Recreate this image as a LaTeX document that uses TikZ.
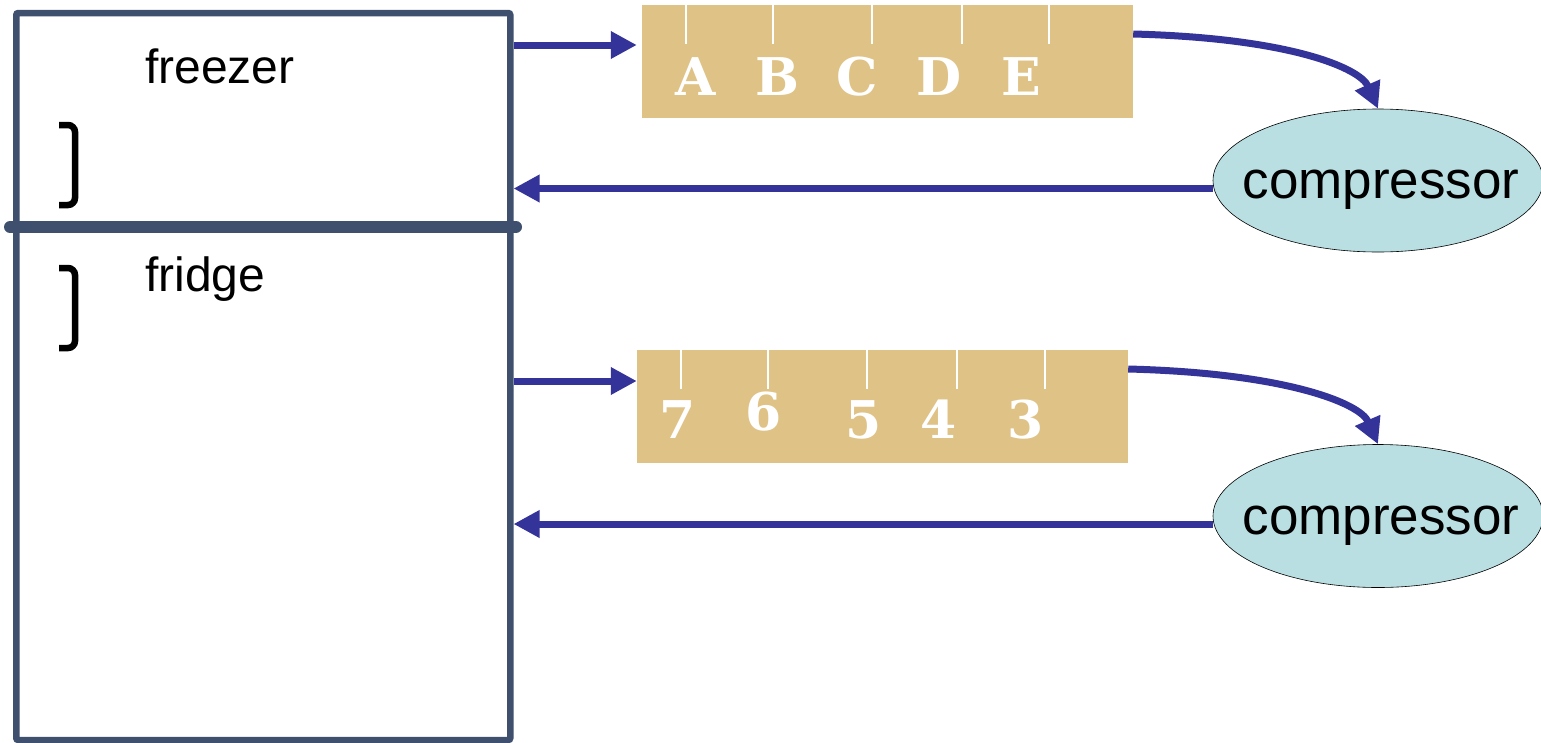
\documentclass[tikz,border=0pt]{standalone}
\usepackage{fontspec}
\newfontfamily\arial{Liberation Sans}
\newfontfamily\serifbold{DejaVu Serif}
\usetikzlibrary{shapes.geometric,arrows.meta}
\definecolor{framec}{HTML}{3F4F6E}
\definecolor{arrc}{HTML}{333399}
\definecolor{tanc}{HTML}{DFC286}
\definecolor{cyanc}{HTML}{B9DFE3}
\tikzset{
  fridgebox/.style={draw=framec, line width=6.5pt, rounded corners=2pt, minimum width=494pt, minimum height=727pt, inner sep=0pt},
  tanbox/.style={fill=tanc, minimum width=491pt, minimum height=113pt, inner sep=0pt},
  comp/.style={ellipse, draw=black, line width=0.6pt, fill=cyanc, minimum width=330pt, minimum height=143pt, inner sep=0pt},
  comptext/.style={font=\arial\fontsize{53}{60}\selectfont, inner sep=0pt, anchor=base},
  arr/.style={draw=arrc, line width=7pt, -{Triangle[length=26pt,width=26pt]}},
  tick/.style={draw=white, line width=1.6pt},
  lab/.style={text=white, font=\serifbold\bfseries\fontsize{52}{60}\selectfont, inner sep=0pt, anchor=base},
  sidetext/.style={font=\arial\fontsize{48}{56}\selectfont, inner sep=0pt, anchor=base west},
  brk/.style={draw=black, line width=6.5pt, rounded corners=7pt}
}
\begin{document}
\begin{tikzpicture}[x=1pt,y=-1pt]
\useasboundingbox (0,0) rectangle (1541,742);
% fridge
\node[fridgebox] (fridge) at (263.25,376.5) {};
\coordinate (divl) at (10,227);
\coordinate (divr) at (516,227);
\draw[draw=framec, line width=12pt, line cap=round] (divl) -- (divr);
\node[sidetext] (freezer) at (145,83) {freezer};
\node[sidetext] (fridgel) at (145,291) {fridge};
\draw[brk] (59,125) -- (75,125) -- (75,205) -- (59,205);
\draw[brk] (59,268) -- (75,268) -- (75,348) -- (59,348);
% tan boxes
\node[tanbox] (box1) at (887.5,61.5) {};
\node[tanbox] (box2) at (882.5,406.5) {};
\foreach \x in {686,773,872,962,1049} \draw[tick] (\x,5) -- (\x,44);
\foreach \x in {681,768,867,957,1045} \draw[tick] (\x,350) -- (\x,389);
\node[lab] (la) at (696,95) {A};
\node[lab] (lb) at (777,95) {B};
\node[lab] (lc) at (857,95) {C};
\node[lab] (ld) at (939,95) {D};
\node[lab] (le) at (1021,95) {E};
\node[lab] (n7) at (678,438) {7};
\node[lab] (n6) at (764,430) {6};
\node[lab] (n5) at (864,438) {5};
\node[lab] (n4) at (939,438) {4};
\node[lab] (n3) at (1026,438) {3};
% compressors
\node[comp] (comp1) at (1378,180.5) {};
\node[comptext] (t1) at (1381,198) {compressor};
\node[comp] (comp2) at (1378,516) {};
\node[comptext] (t2) at (1381,534) {compressor};
% arrows
\draw[arr] (fridge.east |- 0,45) -- ([xshift=-5pt]box1.west |- 0,45);
\draw[arr] ([yshift=-8pt]comp1.west) -- (fridge.east |- 0,188.5);
\draw[arr] (fridge.east |- 0,381) -- (box2.west |- 0,381);
\draw[arr] ([yshift=-8pt]comp2.west) -- (fridge.east |- 0,524);
\draw[arr] (box1.east |- 0,34) .. controls (1290,38) and (1360,68) .. (comp1.north);
\draw[arr] (box2.east |- 0,369) .. controls (1285,373) and (1360,403) .. (comp2.north);
\end{tikzpicture}
\end{document}
